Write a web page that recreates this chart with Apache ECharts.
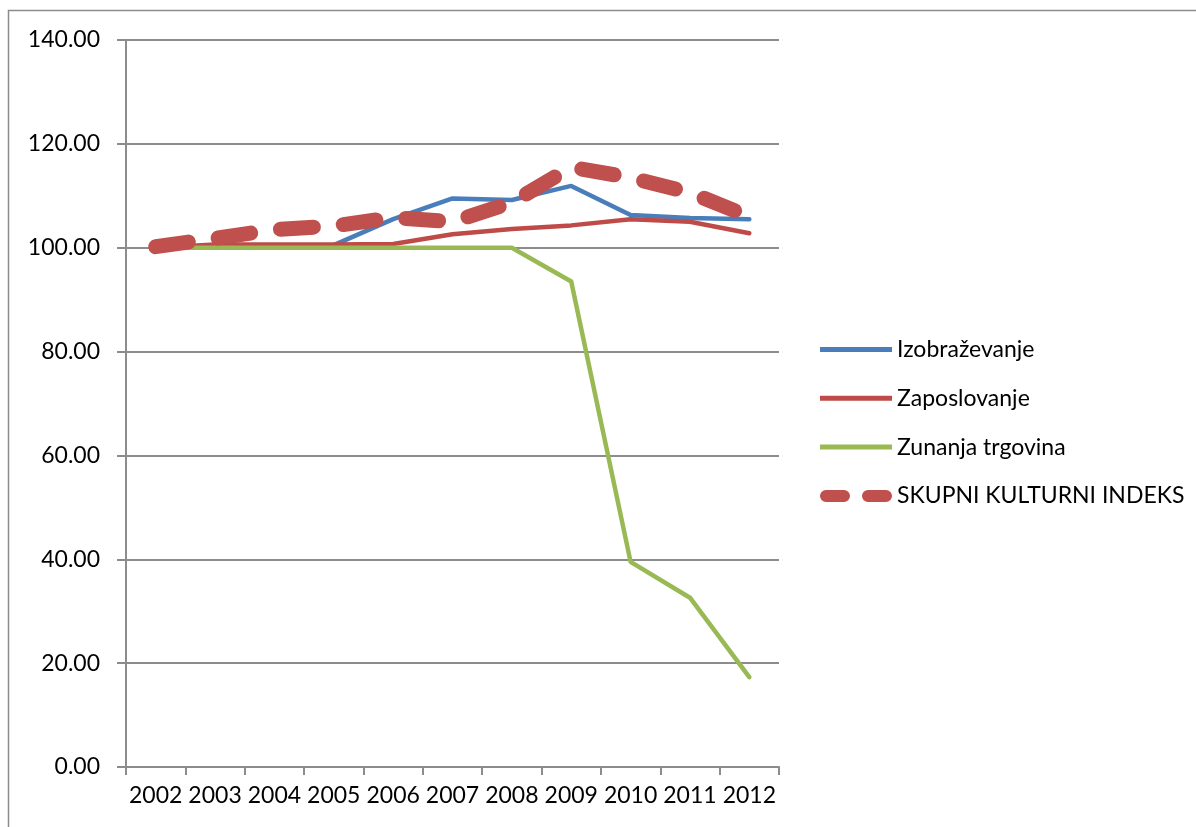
<!DOCTYPE html>
<html>
<head>
<meta charset="utf-8">
<script src="https://cdn.jsdelivr.net/npm/echarts@6/dist/echarts.min.js"></script>
<style>
  html, body { margin: 0; padding: 0; background: #ffffff; }
  #chart { width: 1196px; height: 827px; }
</style>
</head>
<body>
<div id="chart"></div>
<script>
// Years on the category axis
const years = ['2002', '2003', '2004', '2005', '2006', '2007', '2008', '2009', '2010', '2011', '2012'];

// Index values per sector (2002 = 100)
const izobrazevanje   = [100.0, 100.4, 100.4, 100.5, 105.5, 109.5, 109.2, 111.9, 106.3, 105.7, 105.5];
const zaposlovanje    = [100.0, 100.6, 100.6, 100.6, 100.7, 102.6, 103.6, 104.3, 105.5, 105.0, 102.8];
const zunanjaTrgovina = [100.0, 100.0, 100.0, 100.0, 100.0, 100.0, 100.0, 93.5, 39.5, 32.6, 17.3];
const skupniIndeks    = [100.2, 101.8, 103.5, 104.2, 105.8, 105.0, 108.7, 115.5, 113.5, 110.6, 106.0];

// Value axis ticks
const yTicks = [0, 20, 40, 60, 80, 100, 120, 140];

const FONT = 'Lato, "Open Sans", sans-serif';

// Legend icons: a thin solid bar, and two rounded dashes for the dashed total index
const solidIcon  = 'path://M0,0 M72,14 M0,4.5 L72,4.5 L72,9.5 L0,9.5 Z';
const dashedIcon = 'path://M0,0 M72,14 ' +
  'M6,1 L24,1 A6,6 0 0 1 24,13 L6,13 A6,6 0 0 1 6,1 Z ' +
  'M48,1 L66,1 A6,6 0 0 1 66,13 L48,13 A6,6 0 0 1 48,1 Z';

const chart = echarts.init(document.getElementById('chart'), null, { renderer: 'canvas' });

chart.setOption({
  backgroundColor: '#ffffff',
  animation: false,
  textStyle: { fontFamily: FONT },
  graphic: [{
    type: 'rect',
    shape: { x: 8.5, y: 10.5, width: 1200, height: 830 },
    style: { fill: 'none', stroke: '#8c8c8c', lineWidth: 1.5 },
    silent: true, z: -1
  }],
  grid: { left: 126, top: 40, right: 417, bottom: 60, containLabel: false },
  legend: {
    orient: 'vertical',
    left: 815,
    top: 333,
    itemWidth: 72,
    itemHeight: 14,
    itemGap: 25.8,
    textStyle: { fontFamily: FONT, fontSize: 23, color: '#000' },
    data: [
      { name: 'Izobraževanje', icon: solidIcon, itemStyle: { color: '#4a7ebb' } },
      { name: 'Zaposlovanje', icon: solidIcon, itemStyle: { color: '#be4b48' } },
      { name: 'Zunanja trgovina', icon: solidIcon, itemStyle: { color: '#98b954' } },
      { name: 'SKUPNI KULTURNI INDEKS', icon: dashedIcon, itemStyle: { color: '#c0504d' } }
    ]
  },
  xAxis: {
    type: 'category',
    data: years,
    boundaryGap: true,
    axisLine: { lineStyle: { color: '#8c8c8c', width: 2 } },
    axisTick: { show: true, length: 8, lineStyle: { color: '#8c8c8c', width: 2 } },
    axisLabel: { color: '#000', fontSize: 23, fontFamily: FONT, margin: 17, interval: 0 },
    splitLine: { show: false }
  },
  yAxis: {
    type: 'value',
    min: yTicks[0],
    max: yTicks[yTicks.length - 1],
    interval: 20,
    axisLine: { show: true, lineStyle: { color: '#8c8c8c', width: 2 } },
    axisTick: { show: true, length: 9, lineStyle: { color: '#8c8c8c', width: 2 } },
    axisLabel: {
      color: '#000', fontSize: 23, fontFamily: FONT, margin: 26,
      formatter: v => v.toFixed(2)
    },
    splitLine: { show: true, lineStyle: { color: '#8c8c8c', width: 2 } }
  },
  series: [
    {
      name: 'Izobraževanje', type: 'line', data: izobrazevanje,
      symbol: 'none', color: '#4a7ebb',
      lineStyle: { color: '#4a7ebb', width: 4.5, join: 'round', cap: 'round' }
    },
    {
      name: 'Zaposlovanje', type: 'line', data: zaposlovanje,
      symbol: 'none', color: '#be4b48',
      lineStyle: { color: '#be4b48', width: 4.5, join: 'round', cap: 'round' }
    },
    {
      name: 'Zunanja trgovina', type: 'line', data: zunanjaTrgovina,
      symbol: 'none', color: '#98b954',
      lineStyle: { color: '#98b954', width: 4.5, join: 'round', cap: 'round' }
    },
    {
      name: 'SKUPNI KULTURNI INDEKS', type: 'line', data: skupniIndeks,
      symbol: 'none', color: '#c0504d',
      lineStyle: { color: '#c0504d', width: 15, type: [33, 30], cap: 'round', join: 'round' }
    }
  ]
});
</script>
</body>
</html>
